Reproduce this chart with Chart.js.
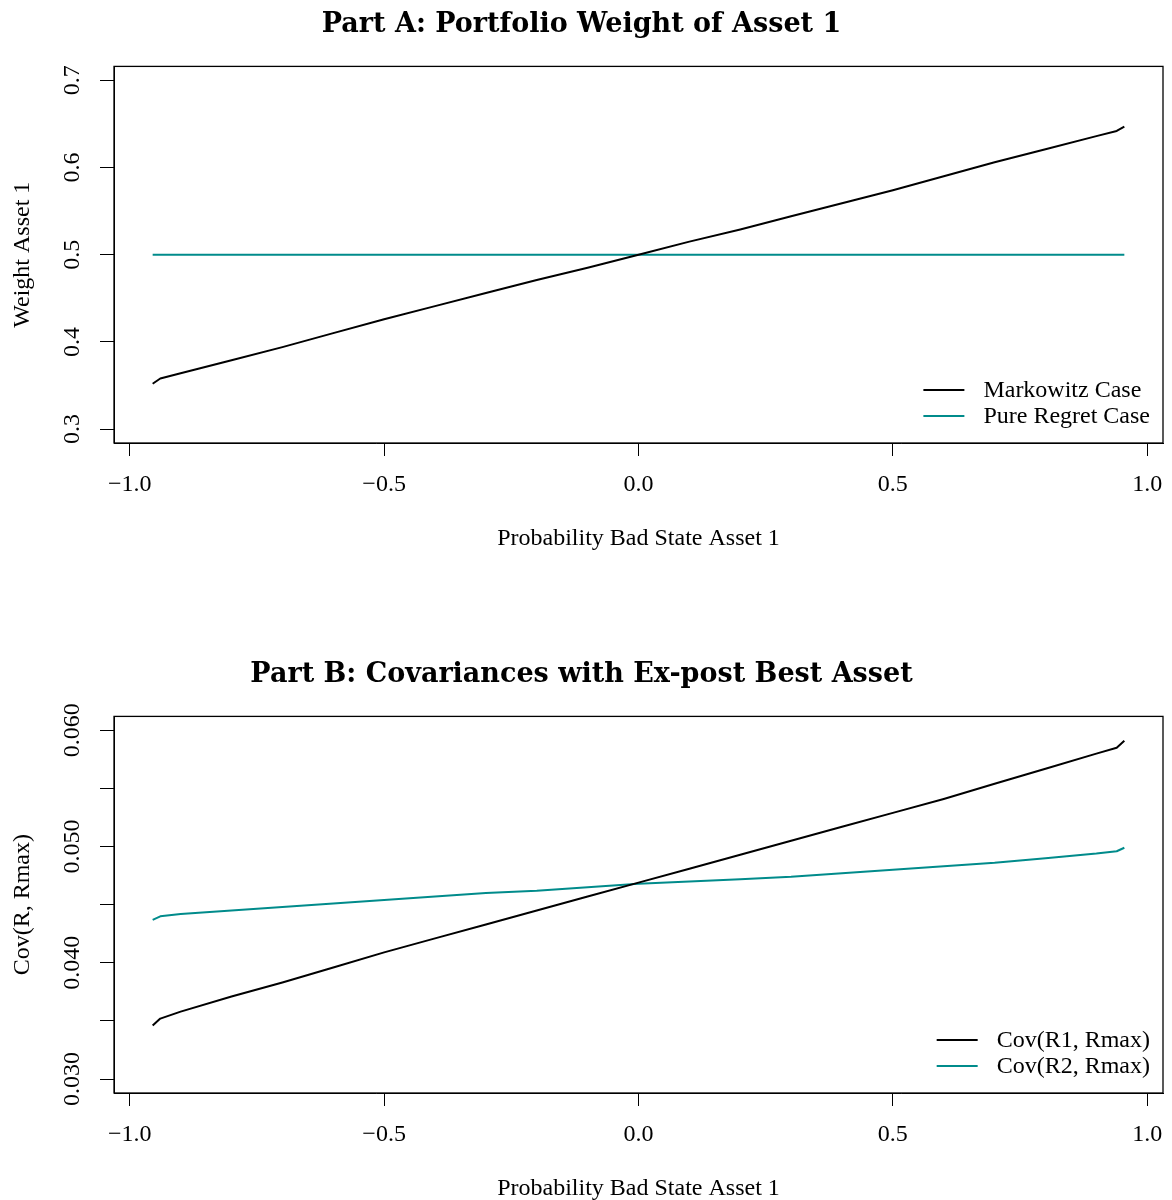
<!DOCTYPE html>
<html lang="en">
<head>
  <meta charset="UTF-8" />
  <title>Portfolio Weight and Covariances</title>
  <script src="https://cdn.jsdelivr.net/npm/chart.js"></script>
  <style>
    html, body { margin: 0; padding: 0; background: #fff; }
    .page { position: relative; width: 1172px; height: 1200px; overflow: hidden; }
    .page canvas { position: absolute; left: 0; }
    #weightChart { top: 0; }
    #covChart { top: 650px; }
  </style>
</head>
<body>
  <div class="page">
    <canvas id="weightChart" width="1172" height="600"></canvas>
    <canvas id="covChart" width="1172" height="600"></canvas>
  </div>

  <script>
    // x values: probability of the bad state for asset 1
    const probBad = [-0.955, -0.94, -0.9, -0.8, -0.7, -0.6, -0.5, -0.4, -0.3, -0.2, -0.1, 0,
                     0.1, 0.2, 0.3, 0.4, 0.5, 0.6, 0.7, 0.8, 0.9, 0.94, 0.955];

    // Part A: weight of asset 1
    const weightMarkowitz = [0.352, 0.358, 0.364, 0.379, 0.394, 0.410, 0.426, 0.441, 0.456, 0.471, 0.485, 0.500,
                             0.515, 0.529, 0.544, 0.559, 0.574, 0.590, 0.606, 0.621, 0.636, 0.642, 0.647];
    const weightRegret = [0.5, 0.5, 0.5, 0.5, 0.5, 0.5, 0.5, 0.5, 0.5, 0.5, 0.5, 0.5,
                          0.5, 0.5, 0.5, 0.5, 0.5, 0.5, 0.5, 0.5, 0.5, 0.5, 0.5];

    // Part B: covariance with the ex-post best asset
    const covR1 = [0.0346, 0.0352, 0.0358, 0.0371, 0.0383, 0.0396, 0.0409, 0.0421, 0.0433, 0.0445, 0.0457, 0.0469,
                   0.0481, 0.0493, 0.0505, 0.0517, 0.0529, 0.0541, 0.0554, 0.0567, 0.0580, 0.0585, 0.0591];
    const covR2 = [0.0437, 0.0440, 0.0442, 0.0445, 0.0448, 0.0451, 0.0454, 0.0457, 0.0460, 0.0462, 0.0465, 0.0468,
                   0.0470, 0.0472, 0.0474, 0.0477, 0.0480, 0.0483, 0.0486, 0.0490, 0.0494, 0.0496, 0.0499];

    const xTicks = [-1, -0.5, 0, 0.5, 1];
    const xTickLabels = ['\u22121.0', '\u22120.5', '0.0', '0.5', '1.0'];
    const weightTicks = [0.3, 0.4, 0.5, 0.6, 0.7];
    const weightTickLabels = ['0.3', '0.4', '0.5', '0.6', '0.7'];
    const covTicks = [0.030, 0.035, 0.040, 0.045, 0.050, 0.055, 0.060];
    const covTickLabels = ['0.030', '', '0.040', '', '0.050', '', '0.060'];

    const SERIF = "'Liberation Serif', 'DejaVu Serif', serif";
    const TEAL = '#008b8b';
    const FONT_SIZE = 24;

    function points(ys) {
      return probBad.map((p, i) => ({ x: p, y: ys[i] }));
    }

    // box around the plot, rotated y labels, legend in the lower right corner
    const basePlot = {
      id: 'basePlot',
      afterDraw(chart, args, opts) {
        const ctx = chart.ctx;
        const area = chart.chartArea;
        const yScale = chart.scales.y;

        ctx.save();
        ctx.strokeStyle = '#000';
        ctx.lineWidth = 1.3;
        ctx.strokeRect(area.left, area.top, area.right - area.left, area.bottom - area.top);

        ctx.fillStyle = '#000';
        ctx.font = FONT_SIZE + 'px ' + SERIF;
        ctx.textAlign = 'center';
        ctx.textBaseline = 'middle';
        opts.yTicks.forEach((v, i) => {
          if (!opts.yLabels[i]) return;
          const y = yScale.getPixelForValue(v);
          ctx.save();
          ctx.translate(area.left - 41, y);
          ctx.rotate(-Math.PI / 2);
          ctx.fillText(opts.yLabels[i], 0, 0);
          ctx.restore();
        });

        // legend
        const sets = chart.data.datasets;
        const textW = Math.max(...sets.map(d => ctx.measureText(d.label).width));
        const textX = area.right - 13 - textW;
        ctx.textAlign = 'left';
        sets.forEach((d, i) => {
          const y = area.bottom - 53 + i * 26;
          ctx.strokeStyle = d.borderColor;
          ctx.lineWidth = 2;
          ctx.beginPath();
          ctx.moveTo(textX - 60, y);
          ctx.lineTo(textX - 19, y);
          ctx.stroke();
          ctx.fillText(d.label, textX, y + 1);
        });
        ctx.restore();
      }
    };

    function makePanel(canvasId, title, yTitle, yMin, yMax, yTicks, yLabels, series) {
      const ctx = document.getElementById(canvasId).getContext('2d');
      return new Chart(ctx, {
        type: 'line',
        data: {
          datasets: series.map(s => ({
            label: s.label,
            data: points(s.values),
            borderColor: s.color,
            borderWidth: 2,
            borderJoinStyle: 'round',
            pointRadius: 0,
            fill: false,
            tension: 0
          }))
        },
        options: {
          responsive: false,
          animation: false,
          devicePixelRatio: 1,
          layout: { padding: { left: 0, right: 9, top: 0, bottom: 0 } },
          plugins: {
            legend: { display: false },
            tooltip: { enabled: false },
            title: {
              display: true,
              text: title,
              color: '#000',
              font: { family: "'DejaVu Serif', serif", weight: 'bold', size: 27 },
              padding: { top: 9, bottom: 25 }
            },
            basePlot: { yTicks: yTicks, yLabels: yLabels }
          },
          scales: {
            x: {
              type: 'linear',
              min: -1.031,
              max: 1.031,
              afterBuildTicks: scale => { scale.ticks = xTicks.map(v => ({ value: v })); },
              afterFit: scale => {
                scale.height = 157;
                scale.paddingLeft = 0;
                scale.paddingRight = 0;
              },
              ticks: {
                color: '#000',
                font: { family: SERIF, size: FONT_SIZE },
                padding: 14,
                maxRotation: 0,
                autoSkip: false,
                callback: v => xTickLabels[xTicks.indexOf(v)]
              },
              grid: { drawOnChartArea: false, drawTicks: true, tickLength: 13, color: '#000', lineWidth: 1 },
              border: { display: true, color: '#000', width: 1 },
              title: {
                display: true,
                text: 'Probability Bad State Asset 1',
                color: '#000',
                font: { family: SERIF, size: FONT_SIZE },
                padding: { top: 0, bottom: 47 }
              }
            },
            y: {
              min: yMin,
              max: yMax,
              afterBuildTicks: scale => { scale.ticks = yTicks.map(v => ({ value: v })); },
              afterFit: scale => { scale.width = 114; },
              ticks: { display: false },
              grid: { drawOnChartArea: false, drawTicks: true, tickLength: 14, color: '#000', lineWidth: 1 },
              border: { display: true, color: '#000', width: 1 },
              title: {
                display: true,
                text: yTitle,
                color: '#000',
                font: { family: SERIF, size: FONT_SIZE },
                padding: { top: 8, bottom: 0 }
              }
            }
          }
        },
        plugins: [basePlot]
      });
    }

    makePanel('weightChart', 'Part A: Portfolio Weight of Asset 1', 'Weight Asset 1',
      0.284, 0.716, weightTicks, weightTickLabels, [
        { label: 'Markowitz Case', values: weightMarkowitz, color: '#000' },
        { label: 'Pure Regret Case', values: weightRegret, color: TEAL }
      ]);

    makePanel('covChart', 'Part B: Covariances with Ex-post Best Asset', 'Cov(R, Rmax)',
      0.0288, 0.0612, covTicks, covTickLabels, [
        { label: 'Cov(R1, Rmax)', values: covR1, color: '#000' },
        { label: 'Cov(R2, Rmax)', values: covR2, color: TEAL }
      ]);
  </script>
</body>
</html>
